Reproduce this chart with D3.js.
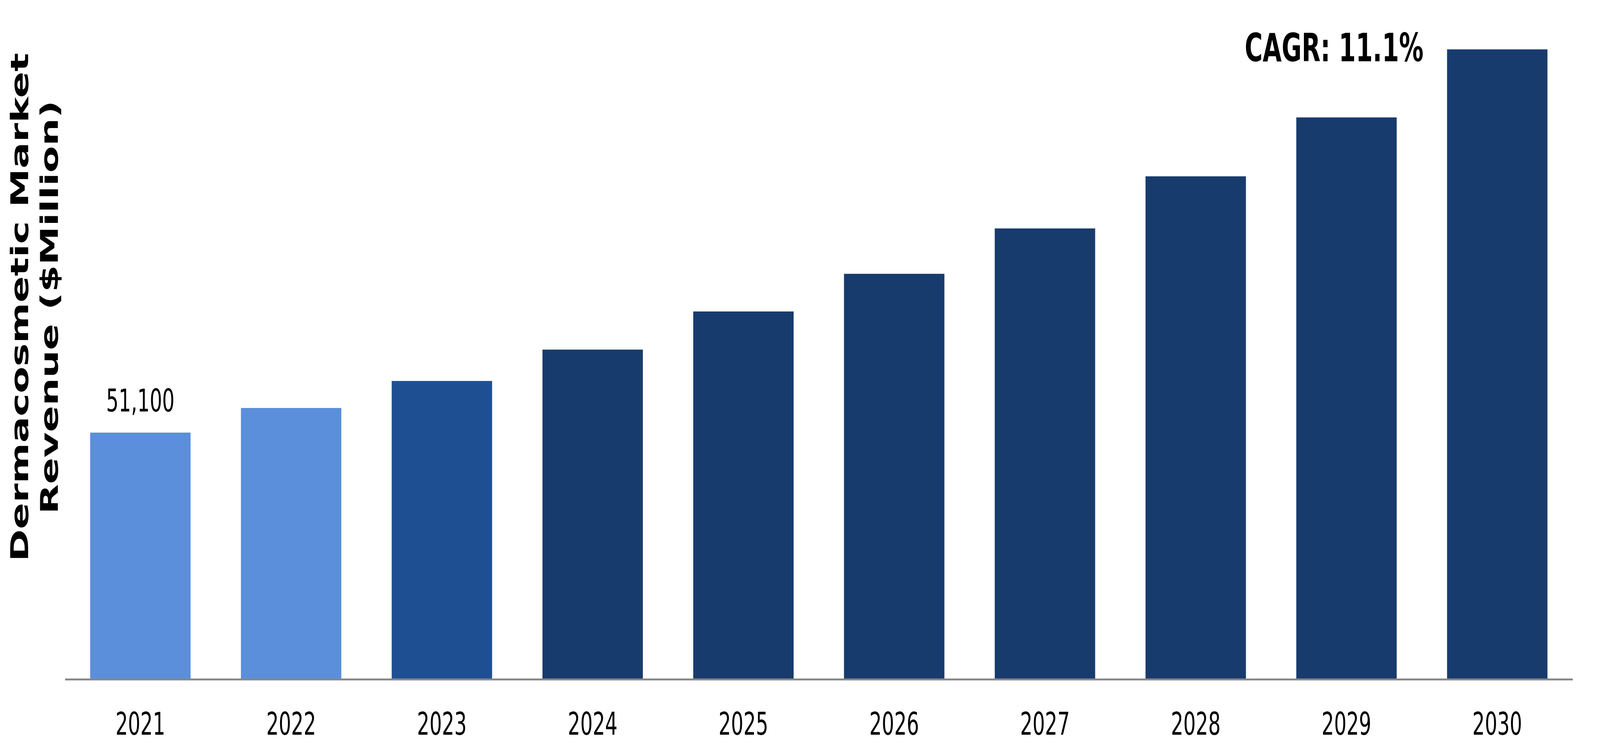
<!DOCTYPE html>
<html>
<head>
<meta charset="utf-8">
<script src="https://cdn.jsdelivr.net/npm/d3@7"></script>
<style>
  html, body { margin: 0; padding: 0; background: #ffffff; overflow: hidden; width: 100%; height: 100%; }
  svg { display: block; width: 100vw; height: 100vh; }
</style>
</head>
<body>
<svg id="chart" viewBox="0 0 6549 1934" preserveAspectRatio="none"></svg>
<script>
// ---- data ----
const years = ["2021", "2022", "2023", "2024", "2025", "2026", "2027", "2028", "2029", "2030"];
const revenue = [51100, 56200, 61800, 68300, 76200, 84000, 93400, 104200, 116400, 130500];
const barColors = ["#5B8FDB", "#5B8FDB", "#1F4F93", "#183B6D", "#183B6D", "#183B6D", "#183B6D", "#183B6D", "#183B6D", "#183B6D"];
const labeledYears = ["2021"];
const yTitleLines = ["Dermacosmetic Market", "Revenue ($Million)"];
const cagrText = "CAGR: 11.1%";

// ---- layout ----
const baseY = 1740;
const svg = d3.select("#chart");

const x = d3.scaleBand()
  .domain(years)
  .range([266, 6437])
  .paddingInner(0.334)
  .paddingOuter(0.167);

const y = d3.scaleLinear()
  .domain([0, 140000])
  .range([baseY, 9]);

const data = years.map((yr, i) => ({ year: yr, value: revenue[i], color: barColors[i] }));

// bars
svg.append("g").selectAll("rect")
  .data(data)
  .join("rect")
  .attr("x", d => x(d.year))
  .attr("y", d => y(d.value))
  .attr("width", x.bandwidth())
  .attr("height", d => y(0) - y(d.value))
  .attr("fill", d => d.color);

// x axis
const xAxis = svg.append("g")
  .attr("transform", `translate(0,${baseY})`)
  .call(d3.axisBottom(x).tickSize(0).tickPadding(0));
xAxis.select(".domain").attr("stroke", "#898989").attr("stroke-width", 5);
xAxis.selectAll(".tick text")
  .attr("dy", null)
  .attr("y", 142)
  .attr("fill", "#000")
  .style("font-family", "'DejaVu Sans', Verdana, sans-serif")
  .style("font-size", "80px");

// value label
svg.append("g").selectAll("text")
  .data(data.filter(d => labeledYears.includes(d.year)))
  .join("text")
  .attr("x", d => x(d.year) + x.bandwidth() / 2)
  .attr("y", d => y(d.value) - 54)
  .attr("text-anchor", "middle")
  .attr("fill", "#000")
  .style("font-family", "'DejaVu Sans', Verdana, sans-serif")
  .style("font-size", "80px")
  .text(d => d3.format(",")(d.value));

// y title
const yTitle = svg.append("text")
  .attr("transform", "translate(0,787) rotate(-90)")
  .attr("text-anchor", "middle")
  .attr("fill", "#000")
  .style("font-family", "'DejaVu Sans', Verdana, sans-serif")
  .style("font-weight", "bold")
  .style("font-size", "100px");
yTitleLines.forEach((t, i) => {
  yTitle.append("tspan")
    .attr("x", 0)
    .attr("y", i === 0 ? 115 : 236)
    .text(t);
});

// CAGR
svg.append("text")
  .attr("x", 5095)
  .attr("y", 157)
  .attr("fill", "#000")
  .style("font-family", "'DejaVu Sans', Verdana, sans-serif")
  .style("font-weight", "bold")
  .style("font-size", "100px")
  .text(cagrText);
</script>
</body>
</html>
